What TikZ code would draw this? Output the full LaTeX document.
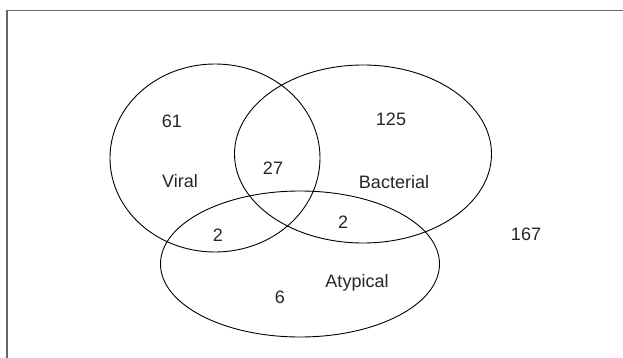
\documentclass[tikz,border=0pt]{standalone}
\usepackage{fontspec}
\setmainfont{Liberation Sans}
\usetikzlibrary{shapes.geometric}
\begin{document}
\begin{tikzpicture}[x=1pt,y=-1pt,
  setshape/.style={draw=black, line width=0.9pt, ellipse, inner sep=0pt},
  lbl/.style={font=\fontsize{18}{20}\selectfont, text=black!85, inner sep=0pt}]
\useasboundingbox (0,0) rectangle (623,358);
\fill[white] (0,0) rectangle (623,358);
\draw[line width=1.6pt, black!60] (7,358) -- (7,10.5) -- (623,10.5);
\node[setshape, minimum width=210pt, minimum height=188pt] (viral) at (215,158) {};
\node[setshape, minimum width=257pt, minimum height=178pt] (bact) at (363,154) {};
\node[setshape, minimum width=279pt, minimum height=146pt] (atyp) at (300,264) {};
\node[lbl] (n61) at (172,121) {61};
\node[lbl] (lviral) at (180,181) {Viral};
\node[lbl] (n27) at (273,168) {27};
\node[lbl] (n2a) at (218,235) {2};
\node[lbl] (n125) at (391,119) {125};
\node[lbl] (lbact) at (394,182) {Bacterial};
\node[lbl] (n2b) at (343,222) {2};
\node[lbl] (n167) at (526,234) {167};
\node[lbl] (latyp) at (357,283) {Atypical};
\node[lbl] (n6) at (280,297) {6};
\end{tikzpicture}
\end{document}
